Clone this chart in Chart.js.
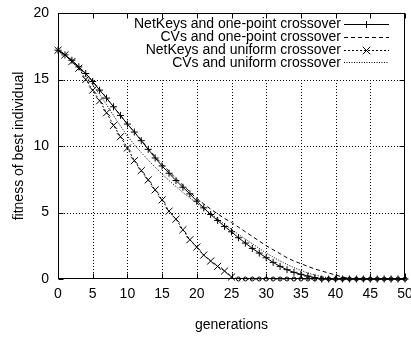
<!DOCTYPE html>
<html><head><meta charset="utf-8">
<script src="https://cdn.jsdelivr.net/npm/chart.js@4.4.0/dist/chart.umd.min.js"></script>
<style>html,body{margin:0;padding:0;background:#fff}#wrap{width:411px;height:339px}</style>
</head><body><div id="wrap"><canvas id="c" width="411" height="339"></canvas></div>
<script>
const generations = [0,1,2,3,4,5,6,7,8,9,10,11,12,13,14,15,16,17,18,19,20,21,22,23,24,25,26,27,28,29,30,31,32,33,34,35,36,37,38,39,40,41,42,43,44,45,46,47,48,49,50];
const netKeysOnePoint = [17.2,16.85,16.45,15.95,15.45,14.85,14.2,13.6,12.95,12.3,11.65,11.05,10.4,9.75,9.1,8.5,7.95,7.4,6.9,6.4,5.85,5.35,4.85,4.4,3.95,3.55,3.1,2.7,2.3,1.95,1.6,1.25,0.95,0.7,0.5,0.35,0.22,0.1,0,0,0,0,0,0,0,0,0,0,0,0,0];
const cvsOnePoint = [17.2,16.85,16.45,15.95,15.45,14.85,14.25,13.6,12.95,12.3,11.65,11.05,10.45,9.8,9.2,8.65,8.1,7.55,7.05,6.55,6.05,5.65,5.25,4.9,4.55,4.25,3.9,3.55,3.2,2.85,2.5,2.2,1.9,1.6,1.35,1.15,0.95,0.75,0.6,0.45,0.3,0.15,0.05,0,0,0,0,0,0,0,0];
const netKeysUniform = [17.2,16.85,16.35,15.85,15.0,14.2,13.4,12.5,11.55,10.7,9.85,8.9,8.15,7.45,6.7,5.95,5.1,4.5,3.7,2.95,2.4,1.8,1.35,0.95,0.6,0.15,0,0,0,0,0,0,0,0,0,0,0,0,0,0,0,0,0,0,0,0,0,0,0,0,0];
const cvsUniform = [17.2,16.85,16.4,15.9,15.3,14.6,13.9,13.1,12.3,11.5,10.75,10.1,9.5,8.95,8.4,7.9,7.4,6.95,6.5,6.1,5.7,5.3,4.9,4.5,4.1,3.75,3.35,3.0,2.65,2.3,1.95,1.65,1.35,1.1,0.85,0.65,0.45,0.3,0.18,0.08,0,0,0,0,0,0,0,0,0,0,0];
const seriesLabels = ['NetKeys and one-point crossover','CVs and one-point crossover','NetKeys and uniform crossover','CVs and uniform crossover'];
const xTicks = [0,5,10,15,20,25,30,35,40,45,50];
const yTicks = [0,5,10,15,20];

const FONT = '"Liberation Sans", Arial, Helvetica, sans-serif';
const pts = arr => generations.map((g,i)=>({x:g,y:arr[i]}));

const gridPlugin = {
  id:'gpGrid',
  beforeDatasetsDraw(chart){
    const c = chart.ctx, a = chart.chartArea, xs = chart.scales.x, ys = chart.scales.y;
    c.save();
    c.strokeStyle = '#000'; c.lineWidth = 1; c.setLineDash([1,2]);
    const top15 = Math.round(ys.getPixelForValue(15))+0.5;
    yTicks.forEach(v=>{ if(v===0||v===20) return;
      const y = Math.round(ys.getPixelForValue(v))+0.5;
      c.beginPath(); c.moveTo(a.left, y); c.lineTo(a.right, y); c.stroke(); });
    xTicks.forEach(v=>{ if(v===0||v===50) return;
      const x = Math.round(xs.getPixelForValue(v))+0.5;
      c.beginPath(); c.moveTo(x, a.bottom); c.lineTo(x, top15); c.stroke(); });
    c.setLineDash([]);
    const L = Math.round(a.left)+0.5, R = Math.round(a.right)-0.5, T = Math.round(a.top)+0.5, B = Math.round(a.bottom)-0.5;
    c.strokeRect(L, T, R-L, B-T);
    const tl = 5;
    c.beginPath();
    xTicks.forEach(v=>{ const x = Math.round(xs.getPixelForValue(v))+0.5;
      c.moveTo(x,B); c.lineTo(x,B-tl); c.moveTo(x,T); c.lineTo(x,T+tl); });
    yTicks.forEach(v=>{ const y = Math.round(ys.getPixelForValue(v))+0.5;
      c.moveTo(L,y); c.lineTo(L+tl,y); c.moveTo(R,y); c.lineTo(R-tl,y); });
    c.stroke();
    c.restore();
  }
};

function drawMark(c, style, x, y, r){
  c.beginPath();
  if(style==='cross'){ c.moveTo(x-r,y); c.lineTo(x+r,y); c.moveTo(x,y-r); c.lineTo(x,y+r); }
  else if(style==='crossRot'){ const d=r*0.75; c.moveTo(x-d,y-d); c.lineTo(x+d,y+d); c.moveTo(x-d,y+d); c.lineTo(x+d,y-d); }
  c.stroke();
}

const legendPlugin = {
  id:'gpLegend',
  afterDatasetsDraw(chart){
    const c = chart.ctx;
    const textRight = 341, sx0 = 344, sx1 = 389, rowTop = 24, rowStep = 12.8;
    c.save();
    c.font = '14px ' + FONT; c.textAlign = 'right'; c.textBaseline = 'middle'; c.fillStyle = '#000';
    chart.data.datasets.forEach((ds,i)=>{
      const y = rowTop + i*rowStep;
      c.fillText(ds.label, textRight, y+0.5);
      const yy = Math.round(y)+0.5;
      c.strokeStyle = '#000'; c.lineWidth = 1; c.setLineDash(ds.borderDash||[]);
      c.beginPath(); c.moveTo(sx0, yy); c.lineTo(sx1, yy); c.stroke();
      c.setLineDash([]);
      if(ds.legendMark) drawMark(c, ds.legendMark, (sx0+sx1)/2, yy, ds.legendMark==='cross'?3.5:5);
    });
    c.restore();
  }
};

const base = {borderColor:'#000', backgroundColor:'#000', borderWidth:1, tension:0, clip:false,
  pointBorderColor:'#000', pointBackgroundColor:'rgba(0,0,0,0)', pointBorderWidth:1};

new Chart(document.getElementById('c'), {
  type:'line',
  data:{datasets:[
    Object.assign({}, base, {label:seriesLabels[0], data:pts(netKeysOnePoint), pointStyle:'cross', pointRadius:3.5, legendMark:'cross'}),
    Object.assign({}, base, {label:seriesLabels[1], data:pts(cvsOnePoint), borderDash:[4,3], pointRadius:0}),
    Object.assign({}, base, {label:seriesLabels[2], data:pts(netKeysUniform), borderDash:[2,2], legendMark:'crossRot',
      pointStyle:ctx=> (ctx.raw && ctx.raw.y===0) ? 'circle' : 'crossRot',
      pointRadius:ctx=> (ctx.raw && ctx.raw.y===0) ? 2 : 5}),
    Object.assign({}, base, {label:seriesLabels[3], data:pts(cvsUniform), borderDash:[1,1.5], pointRadius:0})
  ]},
  options:{
    responsive:false, animation:false, events:[],
    layout:{padding:{left:0,right:5,top:13,bottom:0}},
    plugins:{legend:{display:false}, tooltip:{enabled:false}},
    scales:{
      x:{type:'linear', min:0, max:50,
        afterBuildTicks(s){ s.ticks = xTicks.map(v=>({value:v})); },
        ticks:{color:'#000', padding:7, maxRotation:0, autoSkip:false, font:{family:FONT, size:14}},
        grid:{display:false, drawTicks:false}, border:{display:false},
        title:{display:true, text:'generations', color:'#000', font:{family:FONT, size:14}, padding:{top:0,bottom:5}},
        afterFit(s){ s.height = 60; s.paddingLeft = 0; s.paddingRight = 0; }
      },
      y:{type:'linear', min:0, max:20,
        afterBuildTicks(s){ s.ticks = yTicks.map(v=>({value:v})); },
        ticks:{color:'#000', padding:9, font:{family:FONT, size:14}},
        grid:{display:false, drawTicks:false}, border:{display:false},
        title:{display:true, text:'fitness of best individual', color:'#000', font:{family:FONT, size:14}, padding:{top:11,bottom:0}},
        afterFit(s){ s.width = 58; s.paddingTop = 0; s.paddingBottom = 0; }
      }
    }
  },
  plugins:[gridPlugin, legendPlugin]
});
</script></body></html>
